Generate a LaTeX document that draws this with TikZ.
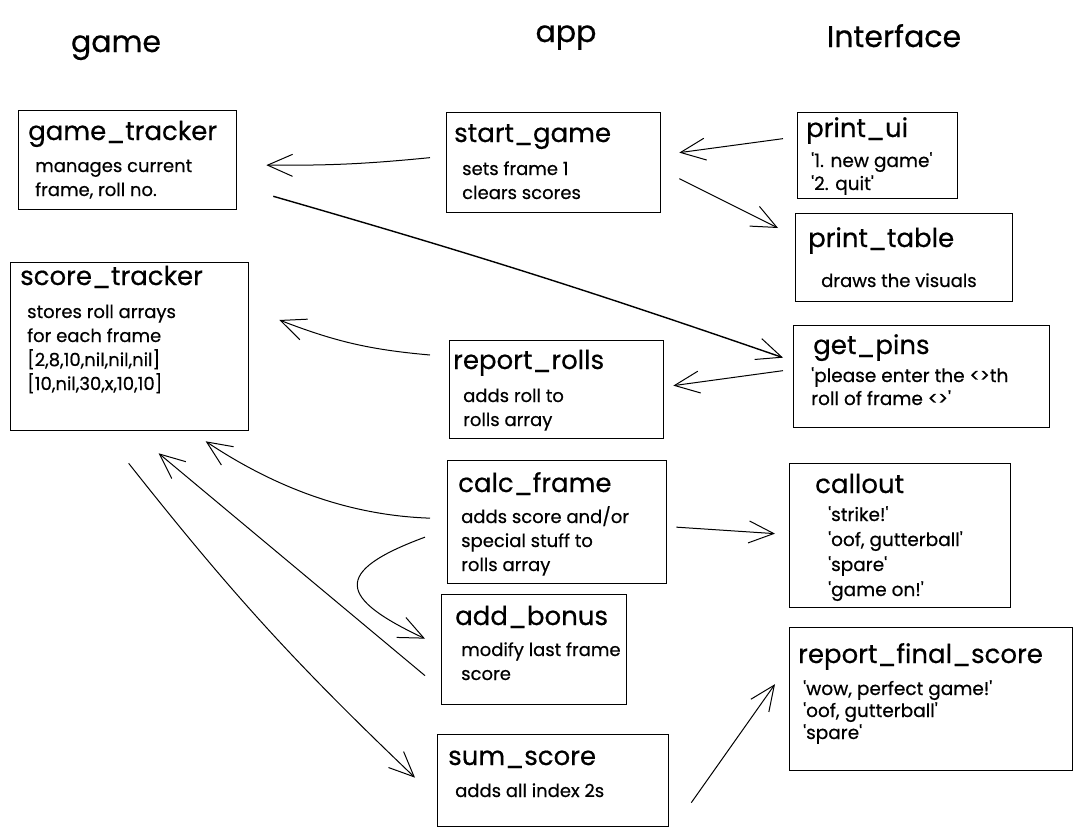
\documentclass[tikz,border=0pt]{standalone}
\usepackage{fontspec}
\setmainfont{Poppins}[FakeBold=0.5]
\usetikzlibrary{arrows.meta}
\newcommand{\boxrows}[1]{\begin{tabular}[t]{@{}l@{}}#1\end{tabular}}
\newcommand{\sq}{\textquotesingle}
\tikzset{
  box/.style   = {draw, line width=1.3pt, rectangle, anchor=north west, inner sep=0pt},
  title/.style = {anchor=base west, inner sep=0pt, font=\fontsize{26}{30}\selectfont},
  body/.style  = {anchor=base west, inner sep=0pt, font=\fontsize{18}{24}\selectfont},
  quote/.style = {anchor=base west, inner sep=0pt, font=\fontsize{18.5}{23}\selectfont},
  head/.style  = {anchor=base, inner sep=0pt, font=\fontsize{30}{34}\selectfont},
  link/.style  = {draw, line width=1pt,
                  -{Straight Barb[length=25pt, width=22pt, line width=1pt]}}
}

\begin{document}
\begin{tikzpicture}[x=1pt, y=-1pt]
\useasboundingbox (0,0) rectangle (1082,835);

% column heads
\node[head] (hgame) at (116,52) {game};
\node[head] (happ) at (566,42) {app};
\node[head] (hui) at (894,47) {Interface};

% game
\node[box, minimum width=218pt, minimum height=99pt] (gt) at (18,110) {};
\node[title] (gt-t) at ([shift={(10,30)}]gt.north west) {game\_tracker};
\node[body] (gt-b) at ([shift={(17,62)}]gt.north west) {\boxrows{manages current\\ frame, roll no.}};

\node[box, minimum width=238pt, minimum height=168pt] (st) at (10,262) {};
\node[title] (st-t) at ([shift={(10,23)}]st.north west) {score\_tracker};
\node[body] (st-b) at ([shift={(17,56)}]st.north west) {\boxrows{stores roll arrays\\ for each frame\\ {[}2,8,10,nil,nil,nil{]}\\ {[}10,nil,30,x,10,10{]}}};

% app
\node[box, minimum width=214pt, minimum height=100pt] (sg) at (446,112) {};
\node[title] (sg-t) at ([shift={(8,30)}]sg.north west) {start\_game};
\node[body] (sg-b) at ([shift={(16,63)}]sg.north west) {\boxrows{sets frame 1\\ clears scores}};

\node[box, minimum width=214pt, minimum height=98pt] (rr) at (449,340) {};
\node[title] (rr-t) at ([shift={(4,29)}]rr.north west) {report\_rolls};
\node[body] (rr-b) at ([shift={(14,62)}]rr.north west) {\boxrows{adds roll to\\ rolls array}};

\node[box, minimum width=219pt, minimum height=123pt] (cf) at (447,460) {};
\node[title] (cf-t) at ([shift={(11,32)}]cf.north west) {calc\_frame};
\node[body] (cf-b) at ([shift={(14,63)}]cf.north west) {\boxrows{adds score and/or\\ special stuff to\\ rolls array}};

\node[box, minimum width=185pt, minimum height=110pt] (ab) at (441,594) {};
\node[title] (ab-t) at ([shift={(14,31)}]ab.north west) {add\_bonus};
\node[body] (ab-b) at ([shift={(20,62)}]ab.north west) {\boxrows{modify last frame\\ score}};

\node[box, minimum width=231pt, minimum height=92pt] (ss) at (437,734) {};
\node[title] (ss-t) at ([shift={(11,31)}]ss.north west) {sum\_score};
\node[body] (ss-b) at ([shift={(18,63)}]ss.north west) {\boxrows{adds all index 2s}};

% interface
\node[box, minimum width=160pt, minimum height=86pt] (pu) at (797,112) {};
\node[title] (pu-t) at ([shift={(9,25)}]pu.north west) {print\_ui};
\node[quote] (pu-b) at ([shift={(14,55)}]pu.north west) {\boxrows{\sq1. new game\sq\\ \sq2. quit\sq}};

\node[box, minimum width=217pt, minimum height=88pt] (pt) at (795,213) {};
\node[title] (pt-t) at ([shift={(13,34)}]pt.north west) {print\_table};
\node[body] (pt-b) at ([shift={(26,74)}]pt.north west) {\boxrows{draws the visuals}};

\node[box, minimum width=256pt, minimum height=102pt] (gp) at (793,325) {};
\node[title] (gp-t) at ([shift={(20,29)}]gp.north west) {get\_pins};
\node[quote] (gp-b) at ([shift={(18,57)}]gp.north west) {\boxrows{\sq please enter the <>th\\ roll of frame <>\sq}};

\node[box, minimum width=221pt, minimum height=144pt] (co) at (789,463) {};
\node[title] (co-t) at ([shift={(26,30)}]co.north west) {callout};
\node[quote, font=\fontsize{18.5}{25}\selectfont] (co-b) at ([shift={(39,58)}]co.north west) {\boxrows{\sq strike!\sq\\ \sq oof, gutterball\sq\\ \sq spare\sq\\ \sq game on!\sq}};

\node[box, minimum width=283pt, minimum height=143pt] (rf) at (789,627) {};
\node[title] (rf-t) at ([shift={(9,36)}]rf.north west) {report\_final\_score};
\node[quote, font=\fontsize{18.5}{22}\selectfont] (rf-b) at ([shift={(14,68)}]rf.north west) {\boxrows{\sq wow, perfect game!\sq\\ \sq oof, gutterball\sq\\ \sq spare\sq}};

% calls
\path [link] ([shift={(-16,-5)}]sg.west) to[bend left=3] ([shift={(29,5)}]gt.east);
\path [link] ([shift={(-14,-17)}]pu.west) -- ([shift={(18,-10)}]sg.east);
\path [link] ([shift={(18,16)}]sg.east) -- ([shift={(-17,15)}]pt.north west);
\path [link, line width=1.4pt] ([shift={(36,-14)}]gt.south east) to[bend left=1.5] ([shift={(-10,-19)}]gp.west);
\path [link] ([shift={(-19,15)}]rr.north west) to[bend left=8] ([shift={(30,58)}]st.north east);
\path [link] ([shift={(-10,-6)}]gp.west) -- ([shift={(9,-4)}]rr.east);
\path [link] ([shift={(-17,-4)}]cf.west) .. controls +(-90,-3) and +(60,40) .. ([shift={(76,10)}]st.south);
\path [link] ([shift={(-22,15)}]cf.west) .. controls +(-95,35) and +(-85,-40) .. ([shift={(-16,-11)}]ab.west);
\path [link] ([shift={(-16,26)}]ab.west) -- ([shift={(29,22)}]st.south);
\path [link] ([shift={(-1,32)}]st.south) to[bend right=4] ([shift={(-22,-3)}]ss.west);
\path [link] ([shift={(9,5)}]cf.east) -- ([shift={(-14,-2)}]co.west);
\path [link] ([shift={(22,22)}]ss.east) -- ([shift={(-14,-15)}]rf.west);

\end{tikzpicture}
\end{document}
